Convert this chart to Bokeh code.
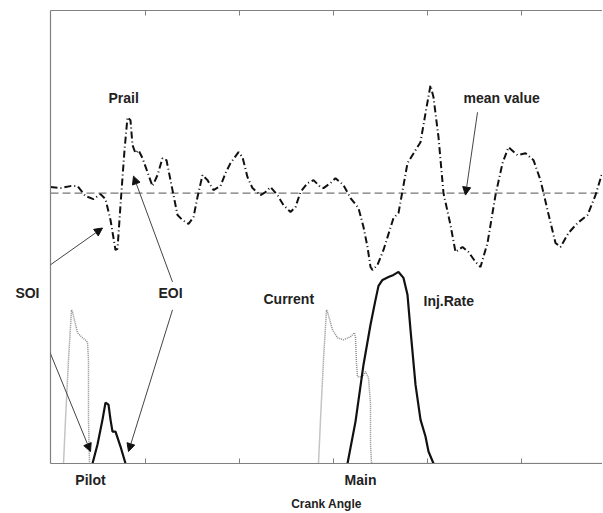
from bokeh.plotting import figure
from bokeh.models import Range1d, LinearAxis, FixedTicker, Label, Arrow, NormalHead
from bokeh.embed import file_html
from bokeh.resources import INLINE

# ---- data (crank angle in arbitrary units, signals in arbitrary units) ----
prail_x = [0, 10, 20, 27, 35, 43, 50, 55, 60, 65, 67, 70, 74, 77, 80, 82, 85, 88, 92, 97,
           102, 107, 112, 116, 122, 127, 132, 138, 143, 147, 152, 157, 163, 170, 175, 180, 188, 192, 197, 202,
           210, 215, 220, 227, 233, 240, 245, 250, 257, 263, 270, 273, 280, 285, 293, 300, 308, 313, 317, 320,
           322, 327, 333, 343, 348, 357, 365, 370, 375, 380, 383, 388, 393, 400, 405, 412, 418, 425, 430, 437,
           445, 452, 458, 467, 475, 483, 490, 497, 505, 510, 518, 527, 537, 545, 552]
prail_y = [277, 276, 278, 278, 268, 265, 270, 265, 244, 214, 215, 259, 314, 347, 344, 319, 311, 314, 306, 292,
           278, 289, 306, 304, 274, 249, 244, 240, 247, 267, 289, 284, 274, 278, 291, 301, 312, 307, 287, 276,
           269, 272, 277, 269, 259, 252, 257, 272, 281, 284, 277, 276, 281, 286, 279, 266, 256, 237, 217, 197,
           194, 199, 214, 246, 251, 301, 314, 322, 351, 379, 367, 327, 271, 239, 212, 217, 212, 202, 197, 221,
           269, 301, 317, 309, 311, 304, 284, 254, 221, 217, 231, 241, 249, 269, 292]
mean_value = 271

rate_pilot_x = [42, 47, 52, 55, 58, 60, 62, 65, 70, 75]
rate_pilot_y = [0, 19, 44, 61, 59, 44, 32, 32, 17, 0]
rate_main_x = [297, 305, 313, 320, 325, 328, 332, 338, 343, 348, 353, 357, 360, 365, 370, 375, 378, 383]
rate_main_y = [0, 42, 99, 139, 164, 178, 184, 187, 189, 192, 186, 169, 134, 79, 44, 27, 12, 0]

current_pilot_x = [13, 15, 18, 21, 22, 27, 32, 36, 37, 38, 38, 39]
current_pilot_y = [0, 44, 104, 154, 152, 131, 126, 123, 121, 104, 44, 0]
current_main_x = [268, 270, 273, 276, 277, 282, 287, 293, 300, 304, 305, 306, 307, 312, 315, 318, 320, 320, 321, 553]
current_main_y = [0, 44, 104, 154, 152, 134, 126, 124, 127, 131, 126, 100, 87, 87, 92, 86, 60, 20, 0, 0]

tick_positions = [95, 189, 283, 377, 471]
pulse_positions = [40, 310]
pulse_names = ["Pilot", "Main"]
soi_level = 171

INK = "#222222"
AXIS = "#808080"
FONT = "Liberation Sans"

p = figure(width=602, height=513, output_backend="svg", toolbar_location=None,
           x_range=Range1d(0, 552), y_range=Range1d(0, 454),
           min_border_left=50, min_border_right=0, min_border_top=10, min_border_bottom=48,
           x_axis_type=None, y_axis_type=None)
p.outline_line_color = None
p.grid.visible = False
p.background_fill_color = "white"
p.border_fill_color = "white"


def tick_axis(ticks):
    ax = LinearAxis(ticker=FixedTicker(ticks=ticks, minor_ticks=[]))
    ax.axis_line_color = AXIS
    ax.axis_line_width = 1.2
    ax.major_tick_line_color = AXIS
    ax.major_tick_in = 5
    ax.major_tick_out = 0
    ax.major_label_overrides = {t: "" for t in ticks}
    ax.major_label_text_font_size = "1px"
    ax.major_label_standoff = 0
    ax.minor_tick_line_color = None
    return ax


def label_axis(ticks, names, standoff):
    ax = LinearAxis(ticker=FixedTicker(ticks=ticks, minor_ticks=[]))
    ax.major_label_overrides = dict(zip(ticks, names))
    ax.major_tick_line_color = None
    ax.minor_tick_line_color = None
    ax.major_tick_in = 0
    ax.major_tick_out = 0
    ax.major_label_standoff = standoff
    ax.major_label_text_font = FONT
    ax.major_label_text_font_style = "bold"
    ax.major_label_text_font_size = "14px"
    ax.major_label_text_color = INK
    return ax


p.add_layout(tick_axis(tick_positions), "below")
p.add_layout(tick_axis(tick_positions), "above")

bottom_labels = label_axis(pulse_positions, pulse_names, 8)
bottom_labels.axis_line_color = None
bottom_labels.axis_label = "Crank Angle"
bottom_labels.axis_label_text_font = FONT
bottom_labels.axis_label_text_font_style = "bold"
bottom_labels.axis_label_text_font_size = "12px"
bottom_labels.axis_label_text_color = INK
bottom_labels.axis_label_standoff = 6
p.add_layout(bottom_labels, "below")

left = label_axis([soi_level], ["SOI"], 11)
left.axis_line_color = AXIS
left.axis_line_width = 1.2
p.add_layout(left, "left")

# mean value line
p.line([0, 552], [mean_value, mean_value], line_color="#555555", line_width=1, line_dash="8 4")
# rail pressure
p.line(prail_x, prail_y, line_color="#111111", line_width=2, line_dash="7 3 1 3")
# current
p.line(current_pilot_x, current_pilot_y, line_color="#8a8a8a", line_width=1.5, line_dash="1 1")
p.line(current_main_x, current_main_y, line_color="#8a8a8a", line_width=1.5, line_dash="1 1")
# injection rate
p.line(rate_pilot_x, rate_pilot_y, line_color="#111111", line_width=2.2)
p.line(rate_main_x, rate_main_y, line_color="#111111", line_width=2.2)

labels = [
    ("Prail", 58, 366), ("mean value", 413, 366),
    ("EOI", 108, 171),
    ("Current", 213, 165), ("Inj.Rate", 373, 163),
]
for txt, lx, ly in labels:
    p.add_layout(Label(x=lx, y=ly, text=txt, text_font=FONT, text_font_style="bold",
                       text_font_size="14px", text_color=INK,
                       text_align="left", text_baseline="middle"))

arrows = [
    (-20, 185, 52, 236), (-22, 164, 40, 12),
    (122, 182, 83, 288), (122, 154, 78, 12),
    (427, 352, 415, 269),
]
for xs, ys, xe, ye in arrows:
    p.add_layout(Arrow(x_start=xs, y_start=ys, x_end=xe, y_end=ye,
                       line_color="#444444", line_width=1,
                       end=NormalHead(size=8, fill_color="#111111", line_color="#111111")))

open("out.html", "w").write(file_html(p, INLINE))
